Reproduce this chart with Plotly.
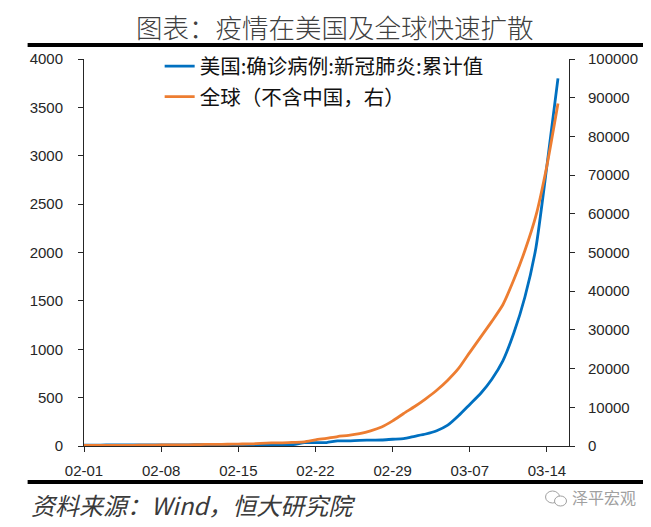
import pandas as pd
import plotly.graph_objects as go

dates = pd.date_range("2020-02-01", "2020-03-15", freq="D")

us_cases = [8, 8, 11, 11, 12, 12, 12, 12, 12, 12,
            13, 13, 14, 15, 15, 15, 15, 15, 15, 15,
            35, 35, 35, 53, 53, 59, 60, 62, 70, 76,
            100, 124, 158, 215, 315, 430, 545, 690, 880, 1170,
            1540, 2050, 2900, 3800]

global_ex_china = [130, 150, 155, 160, 180, 195, 220, 270, 290, 310,
                   320, 395, 440, 450, 505, 530, 690, 800, 810, 930,
                   1080, 1600, 2000, 2450, 2750, 3200, 3900, 4900, 6500, 8400,
                   10200, 12200, 14400, 17000, 20100, 24200, 28200, 32200, 36500, 43000,
                   50500, 59500, 72500, 88500]

x_tickvals = ["2020-02-01", "2020-02-08", "2020-02-15", "2020-02-22",
              "2020-02-29", "2020-03-07", "2020-03-14"]
x_ticktext = ["02-01", "02-08", "02-15", "02-22", "02-29", "03-07", "03-14"]

series_names = ["美国:确诊病例:新冠肺炎:累计值", "全球（不含中国，右）"]
title_text = "图表：疫情在美国及全球快速扩散"
source_text = "资料来源：Wind，恒大研究院"
watermark_text = "泽平宏观"

BLUE = "#0070C0"
ORANGE = "#ED7D31"
AXIS = "#262626"
TICKFONT = dict(family="Liberation Sans, Arial, sans-serif", size=15, color="#262626")
CJK = "Noto Sans CJK SC"

# The page body has an 8px default margin, so the figure is sized to fit
# inside the 651x527 window after that offset.
PAGE_OFF = 8

fig = go.Figure()
fig.add_trace(go.Scatter(x=dates, y=us_cases, name=series_names[0], mode="lines",
                         line=dict(color=BLUE, width=2.8, shape="spline", smoothing=0.6),
                         yaxis="y", legendgroup="a"))
fig.add_trace(go.Scatter(x=dates, y=global_ex_china, name=series_names[1], mode="lines",
                         line=dict(color=ORANGE, width=2.8, shape="spline", smoothing=0.6),
                         yaxis="y2", legendgroup="b"))

fig.update_layout(
    width=651 - PAGE_OFF, height=527 - PAGE_OFF,
    margin=dict(l=83.5 - PAGE_OFF, r=81.5, t=59 - PAGE_OFF, b=81, pad=0, autoexpand=False),
    paper_bgcolor="white", plot_bgcolor="white",
    showlegend=True,
    legend=dict(x=0.156, y=1.033, xanchor="left", yanchor="top",
                bgcolor="rgba(0,0,0,0)", traceorder="grouped", tracegroupgap=1,
                font=dict(family=CJK, size=20.5, color="#111111")),
    xaxis=dict(type="date", range=["2020-02-01", "2020-03-16"],
               tickvals=x_tickvals, ticktext=x_ticktext,
               showgrid=False, zeroline=False,
               showline=True, linecolor=AXIS, linewidth=1,
               ticks="outside", ticklen=5, tickcolor=AXIS, tickwidth=1,
               tickfont=TICKFONT, ticklabelstandoff=6),
    yaxis=dict(range=[0, 4000], dtick=500, tick0=0,
               showgrid=False, zeroline=False,
               showline=True, linecolor=AXIS, linewidth=1,
               ticks="outside", ticklen=5, tickcolor=AXIS, tickwidth=1,
               tickfont=TICKFONT, ticklabelstandoff=12),
    yaxis2=dict(range=[0, 100000], dtick=10000, tick0=0, overlaying="y", side="right",
                tickformat="d", exponentformat="none",
                showgrid=False, zeroline=False,
                showline=True, linecolor=AXIS, linewidth=1,
                ticks="outside", ticklen=5, tickcolor=AXIS, tickwidth=1,
                tickfont=TICKFONT, ticklabelstandoff=10),
)

# Title and decorative rules (paper coords relative to plot area)
fig.add_annotation(text=title_text, xref="paper", yref="paper",
                   x=(335 - 83.5) / 486, y=(446 - 26) / 387,
                   xanchor="center", yanchor="middle", showarrow=False,
                   font=dict(family=CJK, size=26.5, color="#404040", weight=300))
fig.add_shape(type="line", xref="paper", yref="paper",
              x0=(27 - 83.5) / 486, x1=(651 - 83.5) / 486,
              y0=(446 - 45) / 387, y1=(446 - 45) / 387,
              line=dict(color="black", width=4))
fig.add_shape(type="line", xref="paper", yref="paper",
              x0=(27 - 83.5) / 486, x1=(647 - 83.5) / 486,
              y0=(446 - 482) / 387, y1=(446 - 482) / 387,
              line=dict(color="black", width=4))

# Source note
fig.add_annotation(text=source_text, xref="paper", yref="paper",
                   x=(28 - 83.5) / 486, y=(446 - 504) / 387,
                   xanchor="left", yanchor="middle", showarrow=False,
                   font=dict(family=CJK, size=24, color="#3a3a3a", style="italic"))

# Watermark
fig.add_annotation(text=watermark_text, xref="paper", yref="paper",
                   x=(605 - 83.5) / 486, y=(446 - 497) / 387,
                   xanchor="center", yanchor="middle", showarrow=False,
                   font=dict(family=CJK, size=16, color="#a0a0a0"))
fig.add_shape(type="circle", xref="paper", yref="paper",
              x0=(546 - 83.5) / 486, x1=(560 - 83.5) / 486,
              y0=(446 - 503) / 387, y1=(446 - 491) / 387,
              line=dict(color="#a0a0a0", width=1))
fig.add_shape(type="circle", xref="paper", yref="paper",
              x0=(555 - 83.5) / 486, x1=(567 - 83.5) / 486,
              y0=(446 - 506) / 387, y1=(446 - 496) / 387,
              line=dict(color="#a0a0a0", width=1), fillcolor="white")

fig.write_html("out.html")
